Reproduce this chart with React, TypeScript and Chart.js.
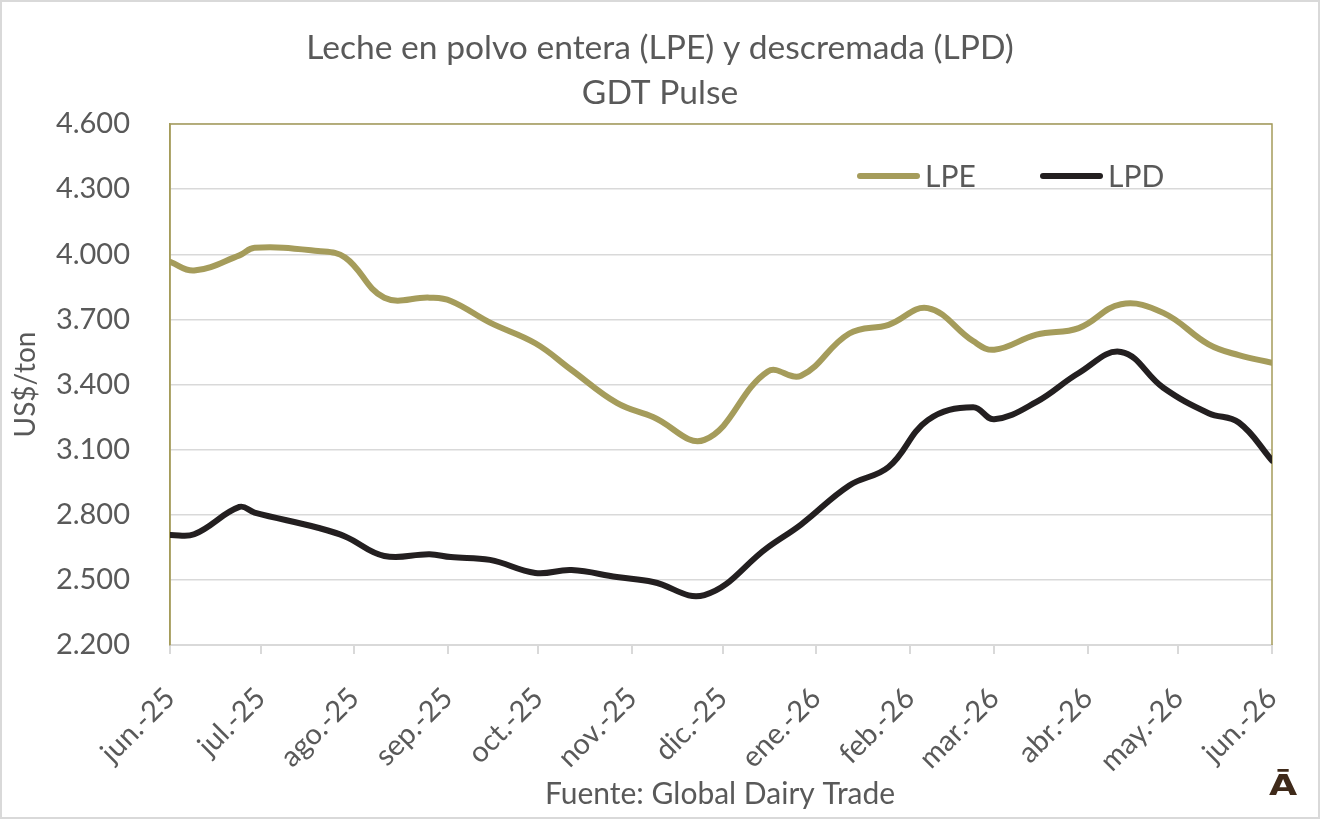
import React, { useEffect, useRef } from "react";
import { Chart, registerables } from "chart.js";

Chart.register(...registerables);

// ---------- data ----------
const START_DATE = "2025-06-01";

const pulseDates = [
  "2025-06-01", "2025-06-09", "2025-06-24", "2025-06-29", "2025-07-20", "2025-07-29",
  "2025-08-11", "2025-08-26", "2025-09-02", "2025-09-15", "2025-09-30", "2025-10-12",
  "2025-10-27", "2025-11-08", "2025-11-25", "2025-12-16", "2025-12-27", "2026-01-12",
  "2026-01-25", "2026-02-07", "2026-02-22", "2026-03-01", "2026-03-15", "2026-03-29",
  "2026-04-12", "2026-04-26", "2026-05-11", "2026-05-21", "2026-06-01",
];

const lpeValues = [
  3965, 3925, 3995, 4030, 4015, 3985,
  3800, 3800, 3785, 3685, 3590, 3467,
  3315, 3250, 3145, 3460, 3440, 3635,
  3675, 3752, 3600, 3560, 3630, 3660,
  3770, 3730, 3585, 3535, 3500,
];

const lpdValues = [
  2707, 2710, 2836, 2810, 2740, 2700,
  2610, 2618, 2605, 2592, 2532, 2545,
  2513, 2490, 2430, 2650, 2755, 2935,
  3020, 3236, 3295, 3240, 3320, 3453,
  3550, 3385, 3268, 3225, 3050,
];

const monthStarts = [
  "2025-06-01", "2025-07-01", "2025-08-01", "2025-09-01", "2025-10-01", "2025-11-01",
  "2025-12-01", "2026-01-01", "2026-02-01", "2026-03-01", "2026-04-01", "2026-05-01",
  "2026-06-01",
];

const monthLabels = [
  "jun.-25", "jul.-25", "ago.-25", "sep.-25", "oct.-25", "nov.-25",
  "dic.-25", "ene.-26", "feb.-26", "mar.-26", "abr.-26", "may.-26", "jun.-26",
];

const yTickValues = [2200, 2500, 2800, 3100, 3400, 3700, 4000, 4300, 4600];

const seriesNames = ["LPE", "LPD"];
const seriesColors = ["#A59C5B", "#231F20"];

const titleLines = ["Leche en polvo entera (LPE) y descremada (LPD)", "GDT Pulse"];
const yAxisTitle = "US$/ton";
const sourceText = "Fuente: Global Dairy Trade";
const logoText = "Ā";

// ---------- helpers ----------
const dayOffset = (iso: string) =>
  Math.round((Date.parse(iso) - Date.parse(START_DATE)) / 86400000);

const fmtThousands = (v: number) =>
  String(Math.round(v)).replace(/\B(?=(\d{3})+(?!\d))/g, ".");

const FONT = "Lato, 'Open Sans', sans-serif";
const TEXT = "#595959";
const GRID = "#D9D9D9";
const OLIVE = "#A59C5B";

const decorPlugin = {
  id: "decor",
  beforeDatasetsDraw(chart: any) {
    const { ctx, chartArea } = chart;
    const { left, right, top } = chartArea;
    const bottom = chart.scales.y.getPixelForValue(2200);
    ctx.save();
    ctx.strokeStyle = OLIVE;
    ctx.lineWidth = 1.5;
    ctx.beginPath();
    ctx.moveTo(left, bottom);
    ctx.lineTo(left, top);
    ctx.lineTo(right, top);
    ctx.lineTo(right, bottom);
    ctx.stroke();
    ctx.restore();
  },
  afterDraw(chart: any) {
    const { ctx, width, height } = chart;
    ctx.save();
    // outer frame
    ctx.strokeStyle = GRID;
    ctx.lineWidth = 2;
    ctx.strokeRect(1, 1, width - 2, height - 2);

    // title
    ctx.fillStyle = TEXT;
    ctx.textAlign = "center";
    ctx.textBaseline = "alphabetic";
    ctx.font = `33.6px ${FONT}`;
    ctx.fillText(titleLines[0], 660, 59);
    ctx.fillText(titleLines[1], 660, 104);

    // legend
    const legendItems = [
      { x: 857, color: seriesColors[0], name: seriesNames[0] },
      { x: 1040, color: seriesColors[1], name: seriesNames[1] },
    ];
    const ly = 176;
    legendItems.forEach((it) => {
      ctx.strokeStyle = it.color;
      ctx.lineWidth = 6;
      ctx.lineCap = "round";
      ctx.beginPath();
      ctx.moveTo(it.x + 3, ly);
      ctx.lineTo(it.x + 60, ly);
      ctx.stroke();
      ctx.fillStyle = TEXT;
      ctx.textAlign = "left";
      ctx.textBaseline = "middle";
      ctx.font = `30px ${FONT}`;
      ctx.fillText(it.name, it.x + 68, ly + 1);
    });

    // source
    ctx.fillStyle = TEXT;
    ctx.textAlign = "center";
    ctx.textBaseline = "alphabetic";
    ctx.font = `30px ${FONT}`;
    ctx.fillText(sourceText, 720, 804);

    // logo
    ctx.fillStyle = "#3F2A1A";
    ctx.font = `bold 28px 'DejaVu Sans', sans-serif`;
    ctx.textAlign = "center";
    ctx.translate(1283, 795);
    ctx.scale(1.3, 1);
    ctx.fillText(logoText, 0, 0);
    ctx.restore();
  },
};

export default function App() {
  const canvasRef = useRef<HTMLCanvasElement | null>(null);

  useEffect(() => {
    document.body.style.margin = "0";
    const canvas = canvasRef.current;
    if (!canvas) return;

    const chart = new Chart(canvas, {
      type: "line",
      data: {
        datasets: [
          {
            label: seriesNames[0],
            data: pulseDates.map((d, i) => ({ x: dayOffset(d), y: lpeValues[i] })),
            borderColor: seriesColors[0],
            backgroundColor: seriesColors[0],
            borderWidth: 6,
            pointRadius: 0,
            tension: 0.4,
            borderCapStyle: "round",
            borderJoinStyle: "round",
          },
          {
            label: seriesNames[1],
            data: pulseDates.map((d, i) => ({ x: dayOffset(d), y: lpdValues[i] })),
            borderColor: seriesColors[1],
            backgroundColor: seriesColors[1],
            borderWidth: 6,
            pointRadius: 0,
            tension: 0.4,
            borderCapStyle: "round",
            borderJoinStyle: "round",
          },
        ],
      },
      options: {
        animation: false,
        responsive: false,
        devicePixelRatio: 1,
        layout: { padding: { top: 124, right: 48, left: 0, bottom: 0 } },
        plugins: {
          legend: { display: false },
          title: { display: false },
          tooltip: { enabled: false },
        },
        scales: {
          x: {
            type: "linear",
            min: 0,
            max: dayOffset(monthStarts[monthStarts.length - 1]),
            afterBuildTicks: (scale: any) => {
              scale.ticks = monthStarts.map((d) => ({ value: dayOffset(d) }));
            },
            afterFit: (scale: any) => {
              scale.height = 174;
              scale.paddingRight = 0;
              scale.paddingLeft = 0;
            },
            grid: {
              drawOnChartArea: false,
              drawTicks: true,
              tickLength: 9,
              color: GRID,
              lineWidth: 2,
            },
            border: { display: true, color: GRID, width: 2 },
            ticks: {
              autoSkip: false,
              maxRotation: 45,
              minRotation: 45,
              padding: 27,
              color: TEXT,
              font: { family: FONT, size: 29 },
              callback: (_v: any, i: number) => monthLabels[i],
            },
          },
          y: {
            min: 2200,
            max: 4600,
            afterBuildTicks: (scale: any) => {
              scale.ticks = yTickValues.map((v) => ({ value: v }));
            },
            afterFit: (scale: any) => {
              scale.width = 170;
            },
            grid: {
              color: GRID,
              lineWidth: 1.5,
              drawTicks: false,
            },
            border: { display: true, color: OLIVE, width: 1.5 },
            ticks: {
              padding: 40,
              color: TEXT,
              font: { family: FONT, size: 29 },
              callback: (v: any) => fmtThousands(Number(v)),
            },
            title: {
              display: true,
              text: yAxisTitle,
              color: TEXT,
              font: { family: FONT, size: 28 },
              padding: { top: 9, bottom: 0 },
            },
          },
        },
      },
      plugins: [decorPlugin],
    } as any);

    return () => chart.destroy();
  }, []);

  return (
    <div style={{ width: 1320, height: 819, background: "#fff" }}>
      <canvas ref={canvasRef} width={1320} height={819} style={{ display: "block" }} />
    </div>
  );
}
